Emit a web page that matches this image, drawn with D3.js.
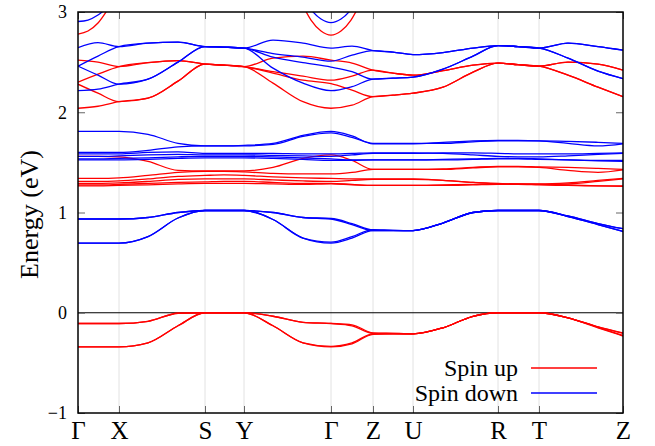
<!DOCTYPE html>
<html>
<head>
<meta charset="utf-8">
<script src="https://cdn.jsdelivr.net/npm/d3@7"></script>
<style>
  body { margin: 0; background: #fff; }
  svg { display: block; font-family: "Liberation Serif", "Times New Roman", serif; }
</style>
</head>
<body>
<svg id="bands"></svg>
<script>
// high-symmetry path
const kLabels = ["Γ", "X", "S", "Y", "Γ", "Z", "U", "R", "T", "Z"];
const kTicks = [0, 41, 127, 166, 253, 295, 335, 420, 461, 545];
const yTicks = [-1, 0, 1, 2, 3];

// k sample points the bands are read at
const kGrid = [0, 20, 41, 70, 100, 127, 146, 166, 195, 225, 253, 274, 295, 315, 335, 365, 395, 420, 440, 461, 490, 520, 545];

// spin up (red), values on kGrid
const upV1 = [-0.107,-0.107,-0.107,-0.085,-0.005,0,0,0,-0.035,-0.095,-0.107,-0.12,-0.2,-0.205,-0.21,-0.15,-0.035,0,0,0,-0.05,-0.14,-0.2];
const upV2 = [-0.107,-0.107,-0.107,-0.085,-0.005,0,0,0,-0.035,-0.095,-0.107,-0.13,-0.205,-0.207,-0.21,-0.15,-0.035,0,0,0,-0.05,-0.142,-0.205];
const upV3 = [-0.34,-0.34,-0.34,-0.3,-0.13,0,0,0,-0.13,-0.3,-0.34,-0.31,-0.215,-0.21,-0.21,-0.15,-0.035,0,0,0,-0.05,-0.145,-0.227];
const upV4 = [-0.34,-0.34,-0.34,-0.3,-0.13,0,0,0,-0.13,-0.3,-0.335,-0.3,-0.21,-0.21,-0.21,-0.15,-0.035,0,0,0,-0.052,-0.15,-0.232];
const upM1 = [1.56,1.56,1.555,1.51,1.42,1.415,1.415,1.415,1.45,1.54,1.575,1.52,1.43,1.43,1.43,1.435,1.45,1.46,1.46,1.455,1.45,1.44,1.43];
const upM2 = [1.34,1.34,1.345,1.37,1.4,1.41,1.41,1.405,1.39,1.385,1.385,1.4,1.43,1.43,1.43,1.43,1.445,1.455,1.455,1.45,1.42,1.4,1.425];
const upM3 = [1.31,1.31,1.315,1.335,1.36,1.37,1.375,1.37,1.355,1.345,1.34,1.335,1.335,1.335,1.335,1.32,1.3,1.29,1.285,1.285,1.295,1.32,1.34];
const upM4 = [1.29,1.29,1.295,1.31,1.33,1.335,1.335,1.335,1.325,1.315,1.31,1.32,1.33,1.33,1.33,1.32,1.3,1.285,1.28,1.28,1.285,1.31,1.335];
const upM5 = [1.275,1.275,1.28,1.29,1.3,1.305,1.31,1.31,1.3,1.29,1.29,1.28,1.27,1.27,1.27,1.275,1.28,1.285,1.285,1.28,1.275,1.265,1.26];
const upM6 = [1.265,1.265,1.27,1.275,1.285,1.29,1.29,1.29,1.285,1.28,1.285,1.275,1.27,1.27,1.27,1.27,1.275,1.28,1.28,1.275,1.27,1.265,1.265];
const upU1 = [2.52,2.5,2.455,2.495,2.515,2.48,2.47,2.455,2.54,2.56,2.52,2.49,2.42,2.39,2.37,2.415,2.47,2.49,2.475,2.46,2.5,2.48,2.42];
const upU2 = [2.3,2.38,2.455,2.495,2.515,2.48,2.47,2.455,2.405,2.36,2.32,2.36,2.42,2.39,2.37,2.415,2.47,2.49,2.475,2.46,2.5,2.48,2.42];
const upU3 = [2.28,2.19,2.105,2.14,2.31,2.48,2.47,2.455,2.39,2.32,2.285,2.22,2.155,2.17,2.19,2.25,2.4,2.49,2.475,2.46,2.37,2.25,2.155];
const upU4 = [2.04,2.06,2.105,2.14,2.31,2.48,2.47,2.455,2.29,2.105,2.04,2.07,2.155,2.17,2.19,2.25,2.4,2.49,2.475,2.46,2.37,2.25,2.155];

// spin down (blue), values on kGrid
const dnC1 = [0.695,0.695,0.695,0.76,0.945,1.02,1.02,1.02,0.93,0.745,0.695,0.745,0.82,0.82,0.82,0.895,1.0,1.02,1.02,1.02,0.96,0.88,0.81];
const dnC2 = [0.695,0.695,0.695,0.76,0.945,1.02,1.02,1.02,0.93,0.745,0.705,0.76,0.83,0.822,0.82,0.895,1.0,1.02,1.02,1.02,0.965,0.89,0.838];
const dnC3 = [0.935,0.935,0.935,0.95,1.0,1.02,1.02,1.02,1.0,0.95,0.935,0.88,0.82,0.82,0.82,0.895,1.0,1.02,1.02,1.02,0.96,0.88,0.81];
const dnC4 = [0.935,0.935,0.935,0.95,1.0,1.02,1.02,1.02,1.0,0.95,0.94,0.89,0.826,0.821,0.82,0.895,1.0,1.02,1.02,1.02,0.965,0.89,0.838];
const dnM1 = [1.81,1.81,1.81,1.78,1.69,1.665,1.665,1.67,1.69,1.77,1.81,1.765,1.685,1.685,1.685,1.7,1.715,1.72,1.72,1.715,1.69,1.665,1.685];
const dnM2 = [1.6,1.6,1.6,1.62,1.655,1.665,1.665,1.665,1.68,1.76,1.795,1.75,1.69,1.69,1.69,1.69,1.705,1.715,1.715,1.715,1.71,1.7,1.69];
const dnM3 = [1.585,1.585,1.585,1.6,1.605,1.59,1.59,1.59,1.59,1.585,1.585,1.59,1.595,1.595,1.595,1.59,1.575,1.56,1.555,1.555,1.565,1.58,1.59];
const dnM4 = [1.56,1.56,1.565,1.575,1.58,1.575,1.575,1.575,1.57,1.565,1.56,1.575,1.59,1.59,1.59,1.595,1.595,1.59,1.585,1.585,1.585,1.59,1.595];
const dnM5 = [1.535,1.535,1.54,1.545,1.555,1.56,1.56,1.56,1.555,1.545,1.535,1.525,1.525,1.525,1.525,1.53,1.535,1.54,1.54,1.535,1.525,1.515,1.51];
const dnM6 = [1.525,1.525,1.525,1.53,1.54,1.545,1.545,1.545,1.54,1.53,1.52,1.52,1.525,1.525,1.525,1.525,1.53,1.535,1.535,1.53,1.525,1.52,1.52];
const dnU1 = [2.645,2.695,2.655,2.69,2.7,2.655,2.65,2.64,2.72,2.69,2.64,2.66,2.615,2.6,2.575,2.595,2.64,2.665,2.655,2.64,2.69,2.655,2.62];
const dnU2 = [2.46,2.56,2.655,2.69,2.7,2.655,2.65,2.64,2.585,2.55,2.51,2.57,2.615,2.6,2.575,2.595,2.64,2.665,2.655,2.64,2.69,2.655,2.62];
const dnU3 = [2.46,2.37,2.28,2.33,2.5,2.655,2.65,2.64,2.55,2.495,2.45,2.405,2.33,2.34,2.35,2.43,2.56,2.665,2.655,2.64,2.54,2.41,2.335];
const dnU4 = [2.215,2.23,2.28,2.33,2.5,2.655,2.65,2.64,2.44,2.29,2.215,2.255,2.33,2.34,2.35,2.43,2.56,2.665,2.655,2.64,2.54,2.41,2.335];

// bands that leave the window just next to Γ, each on its own short k list
const kEdge = [0, 10, 20, 30];
const kMid = [223, 233, 243, 253, 263, 273, 283];
const upTopEdge = [2.78, 2.81, 2.89, 3.03];
const upTopMid = [3.1, 2.92, 2.81, 2.77, 2.81, 2.92, 3.1];
const dnTopEdge = [2.905, 2.92, 2.97, 3.05];
const dnTopMid = [3.19, 3.025, 2.93, 2.895, 2.93, 3.025, 3.19];

const spinUp = [upV1, upV2, upV3, upV4, upM1, upM2, upM3, upM4, upM5, upM6, upU1, upU2, upU3, upU4];
const spinDown = [dnC1, dnC2, dnC3, dnC4, dnM1, dnM2, dnM3, dnM4, dnM5, dnM6, dnU1, dnU2, dnU3, dnU4];

const legendLabels = ["Spin up", "Spin down"];
const red = "#ff0000", blue = "#0000ff";

const margin = {top: 12, right: 32, bottom: 33, left: 78};
const width = 655 - margin.left - margin.right;
const height = 446 - margin.top - margin.bottom;

const svg = d3.select("svg#bands")
    .attr("width", 655)
    .attr("height", 446)
    .append("g")
    .attr("transform", "translate(" + margin.left + "," + margin.top + ")");

const xScale = d3.scaleLinear().domain([0, 545]).range([0, width]);
const yScale = d3.scaleLinear().domain([-1, 3]).range([height, 0]);

svg.append("clipPath").attr("id", "plotArea")
    .append("rect").attr("width", width).attr("height", height);

// light vertical lines at the high-symmetry points
svg.append("g").selectAll("line")
    .data(kTicks.slice(1, -1))
    .enter().append("line")
    .attr("x1", (d) => xScale(d)).attr("x2", (d) => xScale(d))
    .attr("y1", 0).attr("y2", height)
    .attr("stroke", "#e2e2e2").attr("stroke-width", 1);

// Fermi level
svg.append("line")
    .attr("x1", 0).attr("x2", width)
    .attr("y1", yScale(0)).attr("y2", yScale(0))
    .attr("stroke", "#000").attr("stroke-width", 1.1);

const line = d3.line()
    .x((d) => xScale(d[0]))
    .y((d) => yScale(d[1]))
    .curve(d3.curveMonotoneX);

const toPts = (ks, es) => ks.map((k, i) => [k, es[i]]);

const upPaths = spinUp.map((b) => toPts(kGrid, b))
    .concat([toPts(kEdge, upTopEdge), toPts(kMid, upTopMid)]);
const dnPaths = spinDown.map((b) => toPts(kGrid, b))
    .concat([toPts(kEdge, dnTopEdge), toPts(kMid, dnTopMid)]);

const bandLayer = svg.append("g").attr("clip-path", "url(#plotArea)");

bandLayer.selectAll("path.up")
    .data(upPaths)
    .enter().append("path")
    .attr("class", "up")
    .attr("d", line)
    .attr("fill", "none")
    .attr("stroke", red)
    .attr("stroke-width", 1.3);

bandLayer.selectAll("path.down")
    .data(dnPaths)
    .enter().append("path")
    .attr("class", "down")
    .attr("d", line)
    .attr("fill", "none")
    .attr("stroke", blue)
    .attr("stroke-width", 1.3);

// axes
const yAxis = svg.append("g")
    .call(d3.axisLeft(yScale).tickValues(yTicks).tickSize(-7).tickPadding(11).tickFormat(d3.format("d")));
yAxis.select(".domain").remove();
yAxis.selectAll("line").attr("stroke", "#666");
yAxis.selectAll("text").attr("font-size", "18px").attr("fill", "#000")
    .attr("font-family", "Liberation Serif, serif");

const yAxisR = svg.append("g")
    .attr("transform", "translate(" + width + ",0)")
    .call(d3.axisRight(yScale).tickValues(yTicks).tickSize(-7).tickFormat(""));
yAxisR.select(".domain").remove();
yAxisR.selectAll("line").attr("stroke", "#666");

const xAxis = svg.append("g")
    .attr("transform", "translate(0," + height + ")")
    .call(d3.axisBottom(xScale).tickValues(kTicks).tickSize(-7).tickPadding(8)
        .tickFormat((d, i) => kLabels[i]));
xAxis.select(".domain").remove();
xAxis.selectAll("line").attr("stroke", "#666");
xAxis.selectAll("text").attr("font-size", "25px").attr("fill", "#000")
    .attr("font-family", "Liberation Serif, serif");

const xAxisTop = svg.append("g")
    .call(d3.axisTop(xScale).tickValues(kTicks).tickSize(-7).tickFormat(""));
xAxisTop.select(".domain").remove();
xAxisTop.selectAll("line").attr("stroke", "#666");

// frame
svg.append("rect")
    .attr("width", width).attr("height", height)
    .attr("fill", "none").attr("stroke", "#000").attr("stroke-width", 1.5);

svg.append("text")
    .attr("transform", "translate(" + (32 - margin.left) + "," + (height / 2 + 2) + ") rotate(-90)")
    .attr("text-anchor", "middle")
    .attr("dominant-baseline", "middle")
    .attr("font-size", "26px")
    .text("Energy (eV)");

// legend
const legend = svg.append("g").selectAll("g")
    .data(legendLabels)
    .enter().append("g")
    .attr("transform", (d, i) => "translate(0," + (356 + i * 25) + ")");

legend.append("text")
    .attr("x", 440)
    .attr("dy", "0.35em")
    .attr("text-anchor", "end")
    .attr("font-size", "24px")
    .text((d) => d);

legend.append("line")
    .attr("x1", 453).attr("x2", 519)
    .attr("stroke", (d, i) => i === 0 ? red : blue)
    .attr("stroke-width", 1.3);
</script>
</body>
</html>
